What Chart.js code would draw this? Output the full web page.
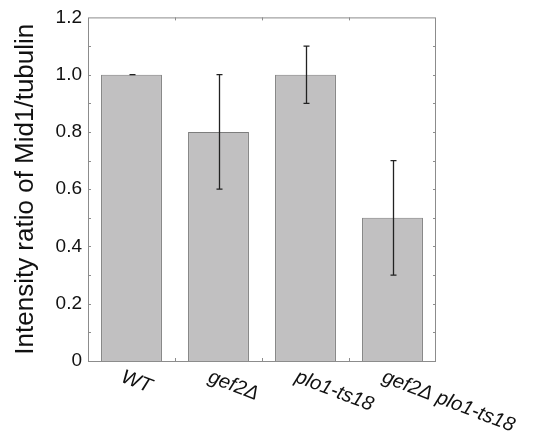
<!DOCTYPE html>
<html>
<head>
<meta charset="utf-8">
<script src="https://cdn.jsdelivr.net/npm/chart.js@4"></script>
<style>
    html, body { margin: 0; padding: 0; background: #fff; }
    #wrap { width: 539px; height: 442px; }
</style>
</head>
<body>
<div id="wrap"><canvas id="ratioChart" width="539" height="442"></canvas></div>
<script>
// Data
const strains = ['WT', 'gef2\u0394', 'plo1-ts18', 'gef2\u0394 plo1-ts18'];
const ratios = [1.0, 0.8, 1.0, 0.5];
const errLow = [1.0, 0.6, 0.9, 0.3];
const errHigh = [1.0, 1.0, 1.1, 0.7];
const yTicks = [0, 0.2, 0.4, 0.6, 0.8, 1.0, 1.2];

const frameColor = '#8c8c8c';

// Error bars with small caps
const errorBars = {
    id: 'errorBars',
    afterDatasetsDraw(chart) {
        const ctx = chart.ctx;
        const y = chart.scales.y;
        const meta = chart.getDatasetMeta(0);
        ctx.save();
        ctx.strokeStyle = '#222';
        ctx.lineWidth = 1.3;
        meta.data.forEach((bar, i) => {
            const x = Math.round(bar.x) + 0.5;
            const yLo = y.getPixelForValue(errLow[i]);
            const yHi = y.getPixelForValue(errHigh[i]);
            ctx.beginPath();
            ctx.moveTo(x, yLo);
            ctx.lineTo(x, yHi);
            ctx.moveTo(x - 3, yLo);
            ctx.lineTo(x + 3, yLo);
            ctx.moveTo(x - 3, yHi);
            ctx.lineTo(x + 3, yHi);
            ctx.stroke();
        });
        ctx.restore();
    }
};

// Box frame with inward minor ticks
const frame = {
    id: 'frame',
    afterDraw(chart) {
        const ctx = chart.ctx;
        const a = chart.chartArea;
        const y = chart.scales.y;
        ctx.save();
        ctx.strokeStyle = frameColor;
        ctx.lineWidth = 1;
        ctx.strokeRect(a.left + 0.5, a.top + 0.5, a.right - a.left - 1, a.bottom - a.top);
        ctx.beginPath();
        for (let k = 1; k < 12; k++) {
            const py = Math.round(y.getPixelForValue(k / 10)) + 0.5;
            ctx.moveTo(a.left, py); ctx.lineTo(a.left + 3, py);
            ctx.moveTo(a.right, py); ctx.lineTo(a.right - 3, py);
        }
        const step = (a.right - a.left) / strains.length;
        for (let k = 1; k < strains.length; k++) {
            const px = Math.round(a.left + step * k) + 0.5;
            ctx.moveTo(px, a.bottom); ctx.lineTo(px, a.bottom - 3);
            ctx.moveTo(px, a.top); ctx.lineTo(px, a.top + 3);
        }
        ctx.stroke();
        ctx.restore();
    }
};

// Slanted italic category labels (descending to the right)
const slantLabels = {
    id: 'slantLabels',
    afterDraw(chart) {
        const ctx = chart.ctx;
        const x = chart.scales.x;
        const a = chart.chartArea;
        ctx.save();
        ctx.fillStyle = '#111';
        ctx.font = 'italic 20px "Liberation Sans", Arial, sans-serif';
        ctx.textAlign = 'left';
        ctx.textBaseline = 'top';
        strains.forEach((label, i) => {
            const px = x.getPixelForTick(i);
            ctx.save();
            ctx.translate(px - 6, a.bottom + 6);
            ctx.rotate(21 * Math.PI / 180);
            ctx.fillText(label, 0, 0);
            ctx.restore();
        });
        ctx.restore();
    }
};

new Chart(document.getElementById('ratioChart').getContext('2d'), {
    type: 'bar',
    data: {
        labels: strains,
        datasets: [{
            data: ratios,
            backgroundColor: '#c1c0c1',
            borderColor: '#7d7d7d',
            borderWidth: 1,
            categoryPercentage: 1,
            barPercentage: 0.7
        }]
    },
    options: {
        responsive: false,
        animation: false,
        layout: {
            padding: { left: 10, top: 15, right: 103, bottom: 0 }
        },
        plugins: {
            legend: { display: false },
            tooltip: { enabled: false }
        },
        scales: {
            x: {
                grid: { display: false, drawTicks: false },
                border: { display: false },
                ticks: { display: false },
                afterFit(scale) { scale.height = 81; }
            },
            y: {
                min: 0,
                max: 1.2,
                afterBuildTicks(scale) {
                    scale.ticks = yTicks.map(v => ({ value: v }));
                },
                grid: { display: false, drawTicks: false },
                border: { display: false },
                ticks: {
                    color: '#111',
                    padding: 6,
                    font: { family: '"Liberation Sans", Arial, sans-serif', size: 19 },
                    callback: v => v === 0 ? '0' : v.toFixed(1)
                },
                title: {
                    display: true,
                    text: 'Intensity ratio of Mid1/tubulin',
                    color: '#111',
                    padding: { top: 0, bottom: 0 },
                    font: { family: '"Liberation Sans", Arial, sans-serif', size: 26 }
                },
                afterFit(scale) { scale.width = 78; }
            }
        }
    },
    plugins: [errorBars, frame, slantLabels]
});
</script>
</body>
</html>
